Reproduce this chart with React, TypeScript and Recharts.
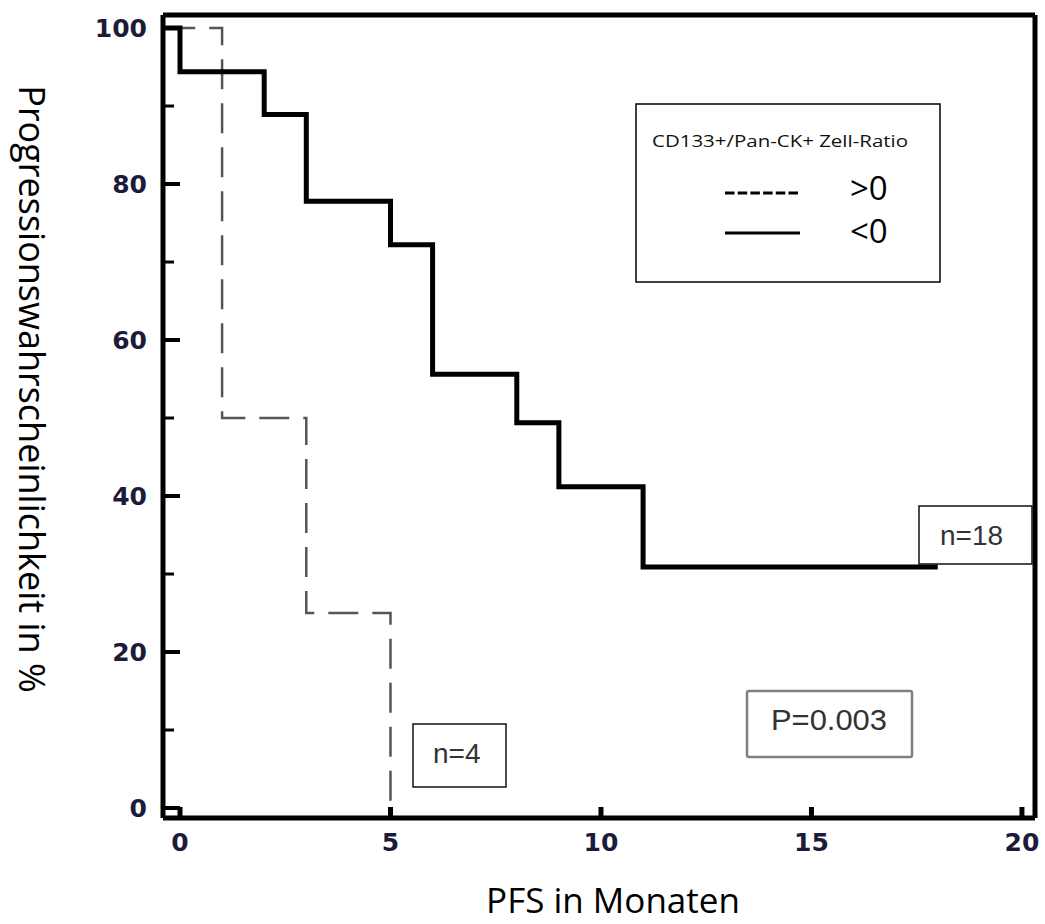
import React from "react";
import { LineChart, Line, XAxis, YAxis } from "recharts";

// Kaplan-Meier steps (time in months, progression-free probability in %)
const ratioLowTimes = [-0.35, 0, 2, 3, 5, 6, 8, 9, 11, 18];
const ratioLowPfs = [100, 94.4, 88.9, 77.8, 72.2, 55.6, 49.4, 41.2, 30.9, 30.9];
const ratioHighTimes = [-0.35, 1, 3, 5];
const ratioHighPfs = [100, 50, 25, 0];

const xTicks = [0, 5, 10, 15, 20];
const yTicks = [0, 10, 20, 30, 40, 50, 60, 70, 80, 90, 100];
const xDomain: [number, number] = [-0.404, 20.31];
const yDomain: [number, number] = [-1.28, 101.67];

const legendTitle = "CD133+/Pan-CK+ Zell-Ratio";
const legendHigh = ">0";
const legendLow = "<0";
const nLow = "n=18";
const nHigh = "n=4";
const pValue = "P=0.003";
const xTitle = "PFS in Monaten";
const yTitle = "Progressionswahrscheinlichkeit in %";

const lowData = ratioLowTimes.map((t, i) => ({ t, v: ratioLowPfs[i] }));
const highData = ratioHighTimes.map((t, i) => ({ t, v: ratioHighPfs[i] }));

const W = 1045;
const H = 924;
const tickColor = "#1c1c3a";

const YTick = (props: any) => {
  const { x, y, payload } = props;
  const major = payload.value % 20 === 0;
  return (
    <g>
      <line x1={x} y1={y} x2={x + (major ? 17 : 11)} y2={y} stroke="#000" strokeWidth={major ? 4 : 3} />
      {major && (
        <text
          x={x - 16}
          y={y}
          textAnchor="end"
          dominantBaseline="central"
          fontFamily="DejaVu Sans"
          fontWeight="bold"
          fontSize={25}
          fill={tickColor}
        >
          {payload.value}
        </text>
      )}
    </g>
  );
};

const XTick = (props: any) => {
  const { x, y, payload } = props;
  return (
    <g>
      <line x1={x} y1={y} x2={x} y2={y - 11} stroke="#000" strokeWidth={5} />
      <text
        x={x}
        y={y + 33}
        textAnchor="middle"
        fontFamily="DejaVu Sans"
        fontWeight="bold"
        fontSize={25}
        fill={tickColor}
      >
        {payload.value}
      </text>
    </g>
  );
};

const frameLine = { stroke: "#000", strokeWidth: 5 };

export default function App() {
  return (
    <div style={{ position: "absolute", left: 0, top: 0, width: W, height: H, background: "#fff" }}>
      <LineChart width={W} height={H} margin={{ top: 14, right: 9, bottom: 0, left: 0 }}>
        <XAxis
          dataKey="t"
          type="number"
          domain={xDomain}
          ticks={xTicks}
          allowDataOverflow
          height={106}
          tickSize={0}
          tickMargin={0}
          tickLine={false}
          tick={<XTick />}
          axisLine={frameLine}
        />
        <XAxis
          xAxisId="top"
          orientation="top"
          type="number"
          domain={xDomain}
          ticks={xTicks}
          allowDataOverflow
          height={1}
          tick={false}
          tickLine={false}
          axisLine={frameLine}
        />
        <YAxis
          type="number"
          domain={yDomain}
          ticks={yTicks}
          allowDataOverflow
          width={163}
          tickSize={0}
          tickMargin={0}
          tickLine={false}
          tick={<YTick />}
          axisLine={frameLine}
        />
        <YAxis
          yAxisId="right"
          orientation="right"
          type="number"
          domain={yDomain}
          ticks={yTicks}
          allowDataOverflow
          width={1}
          tick={false}
          tickLine={false}
          axisLine={frameLine}
        />
        <Line
          data={highData}
          dataKey="v"
          type="stepAfter"
          stroke="#555"
          strokeWidth={2.5}
          strokeDasharray="30 14"
          dot={false}
          activeDot={false}
          isAnimationActive={false}
        />
        <Line
          data={lowData}
          dataKey="v"
          type="stepAfter"
          stroke="#000"
          strokeWidth={5}
          strokeLinejoin="miter"
          dot={false}
          activeDot={false}
          isAnimationActive={false}
        />
      </LineChart>
      <svg
        width={W}
        height={H}
        style={{ position: "absolute", left: 0, top: 0, pointerEvents: "none" }}
      >
        {/* legend */}
        <rect x={636} y={104} width={304} height={178} fill="#fff" stroke="#000" strokeWidth={1.5} />
        <text x={652} y={147} fontFamily="Open Sans" fontSize={17} fill="#111" textLength={256} lengthAdjust="spacingAndGlyphs">
          {legendTitle}
        </text>
        <line x1={725} y1={193} x2={798} y2={193} stroke="#000" strokeWidth={3} strokeDasharray="9.5 3.2" />
        <text x={850} y={200} fontFamily="Open Sans" fontSize={33} fill="#000">
          {legendHigh}
        </text>
        <line x1={725} y1={233} x2={800} y2={233} stroke="#000" strokeWidth={3} />
        <text x={850} y={243} fontFamily="Open Sans" fontSize={33} fill="#000">
          {legendLow}
        </text>

        {/* group sizes */}
        <rect x={919} y={506} width={113} height={58} fill="#fff" stroke="#111" strokeWidth={1.5} />
        <text x={940} y={545} fontFamily="Liberation Sans" fontSize={28} fill="#333">
          {nLow}
        </text>
        <rect x={413} y={724} width={93} height={63} fill="#fff" stroke="#111" strokeWidth={1.5} />
        <text x={433} y={763} fontFamily="Liberation Sans" fontSize={28} fill="#333">
          {nHigh}
        </text>

        {/* log-rank p */}
        <rect x={747} y={691} width={165} height={66} rx={2} fill="#fff" stroke="#808080" strokeWidth={2.5} />
        <text x={771} y={730} fontFamily="Liberation Sans" fontSize={29} fill="#333" textLength={116} lengthAdjust="spacingAndGlyphs">
          {pValue}
        </text>

        {/* axis titles */}
        <text x={613} y={913} textAnchor="middle" fontFamily="Open Sans" fontSize={35} fill="#000">
          {xTitle}
        </text>
        <text
          x={19}
          y={389}
          textAnchor="middle"
          fontFamily="Open Sans"
          fontSize={36}
          fill="#000"
          transform="rotate(90, 19, 389)"
        >
          {yTitle}
        </text>
      </svg>
    </div>
  );
}
